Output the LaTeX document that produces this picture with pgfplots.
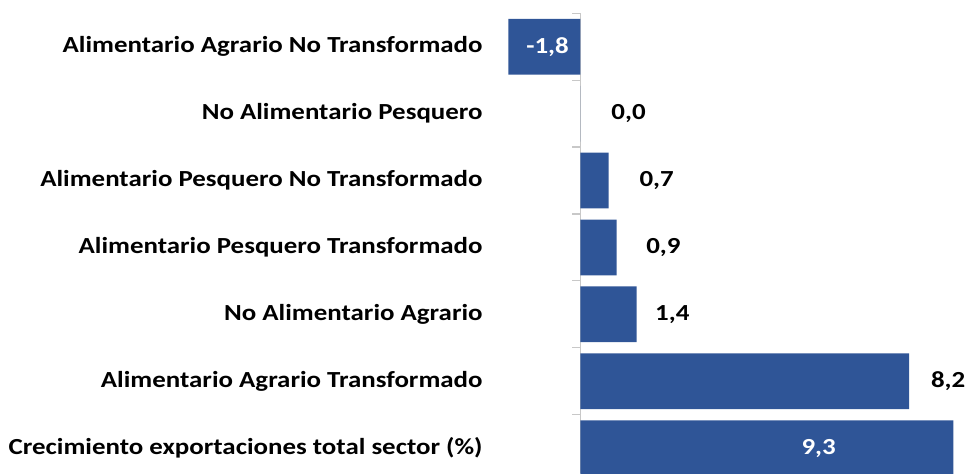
\documentclass[border=0pt]{standalone}
\usepackage{fontspec}
\setmainfont{Carlito}[FakeStretch=1.17]
\usepackage{pgfplots}
\pgfplotsset{compat=1.18}
\definecolor{barblue}{RGB}{47,85,151}
\definecolor{axgray}{RGB}{200,200,200}
\begin{document}
\begin{tikzpicture}
\begin{axis}[
    scale only axis,
    width=240pt, height=229.85pt,
    xmin=-2.257, xmax=9.716,
    ymin=-0.5, ymax=6.372,
    y dir=reverse,
    axis line style={draw=none},
    xtick=\empty,
    ytick={0,1,2,3,4,5,6},
    yticklabels={
        {Alimentario Agrario No Transformado\hspace{5pt}},
        {No Alimentario Pesquero},
        {Alimentario Pesquero No Transformado},
        {Alimentario Pesquero Transformado},
        {No Alimentario Agrario},
        {Alimentario Agrario Transformado},
        {Crecimiento exportaciones total sector (\%)}},
    major tick length=0pt,
    yticklabel style={anchor=east, inner sep=0pt, xshift=-3.5pt, font=\fontsize{11.5pt}{13pt}\selectfont\bfseries},
    clip=true,
]
% eje vertical con marcas entre categorias
\draw[axgray, line width=0.6pt] (axis cs:0,-0.5) -- (axis cs:0,6.372);
\pgfplotsinvokeforeach{-0.5,0.5,1.5,2.5,3.5,4.5,5.5}{
    \draw[axgray, line width=0.6pt] (axis cs:0,#1) -- ([xshift=-4pt]axis cs:0,#1);
}

% barras
\addplot[xbar, bar width=27.85pt, fill=barblue, draw=none]
coordinates {(-1.8,0) (0,1) (0.7,2) (0.9,3) (1.4,4) (8.2,5) (9.3,6)};

% etiquetas negras
\addplot[draw=none, mark=none, nodes near coords, point meta=explicit symbolic,
    every node near coord/.style={anchor=center, inner sep=0pt, text=black,
        font=\fontsize{11.5pt}{14pt}\selectfont\bfseries}]
table[meta=lab] {
x y lab
1.20 1 0,0
1.90 2 0,7
2.07 3 0,9
2.29 4 1,4
9.17 5 8,2
};

% etiquetas blancas
\addplot[draw=none, mark=none, nodes near coords, point meta=explicit symbolic,
    every node near coord/.style={anchor=center, inner sep=0pt, text=white,
        font=\fontsize{11.5pt}{14pt}\selectfont\bfseries}]
table[meta=lab] {
x y lab
-0.82 0 -1,8
5.94 6 9,3
};
\end{axis}
\pgfresetboundingbox
\path[use as bounding box] (current axis.south east) rectangle ++(-485pt,236.5pt);
\end{tikzpicture}
\end{document}
